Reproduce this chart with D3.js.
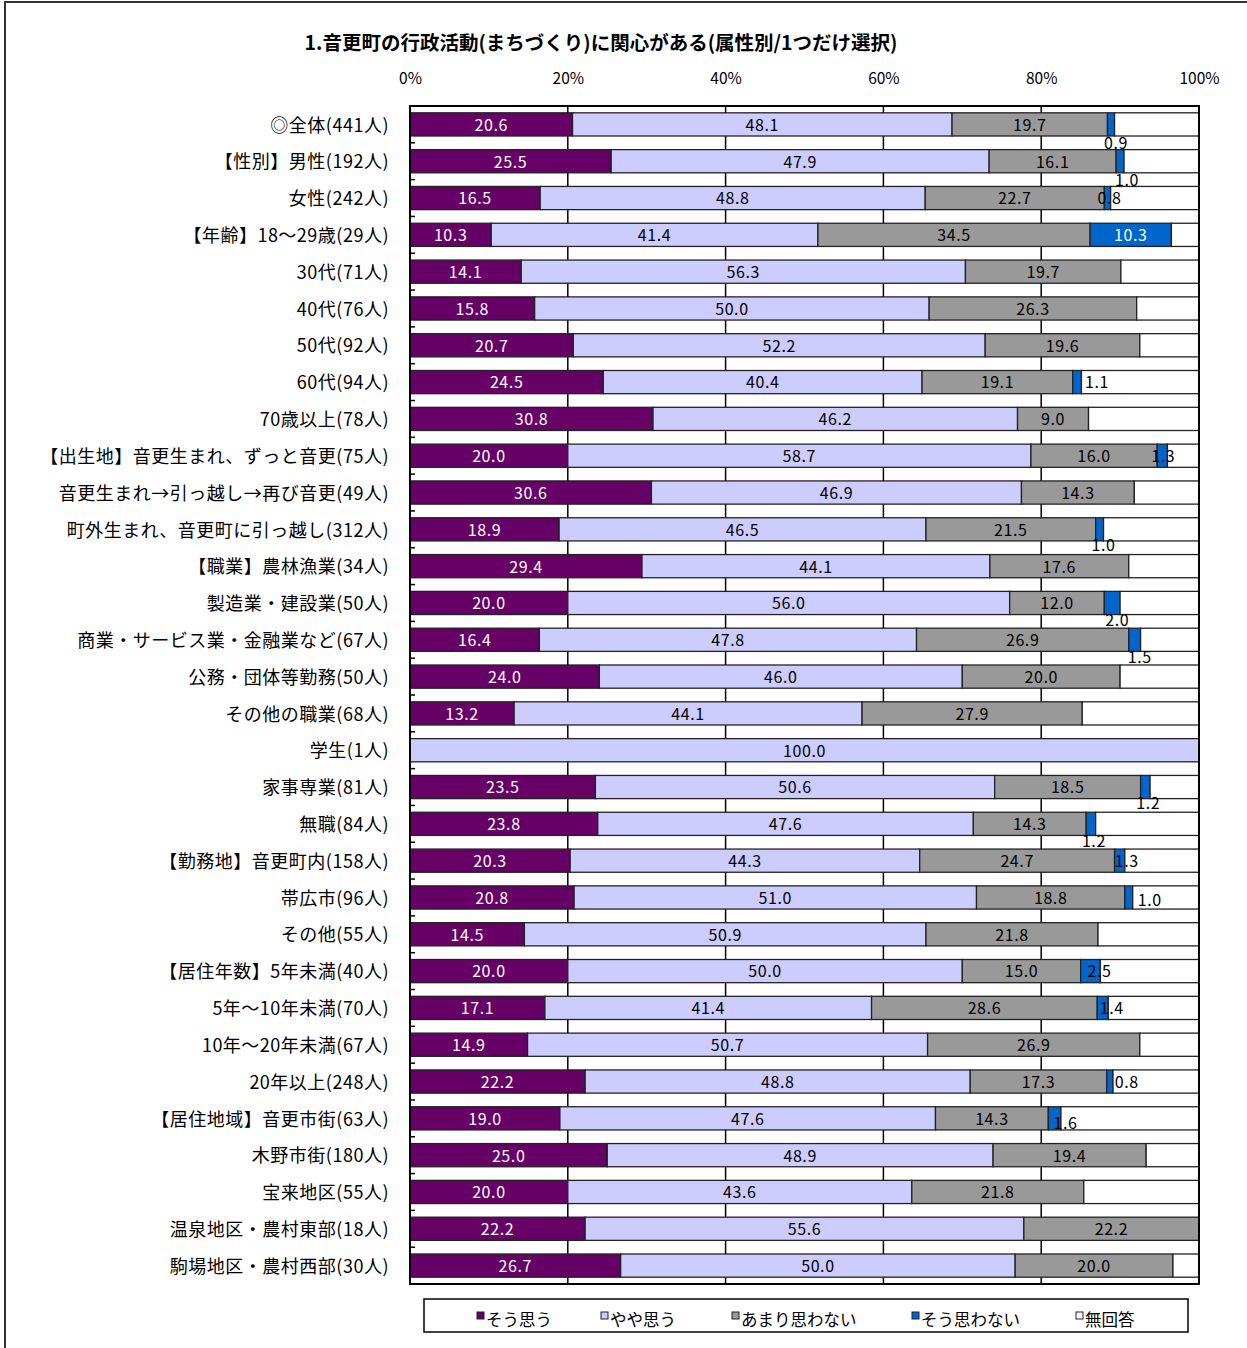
<!DOCTYPE html>
<html lang="ja">
<head>
<meta charset="utf-8">
<script src="https://cdn.jsdelivr.net/npm/d3@7/dist/d3.min.js"></script>
<style>
  html, body { margin: 0; padding: 0; background: #fff; }
  svg { display: block; }
  text { font-family: "Noto Sans CJK JP", "Noto Sans", sans-serif; }
</style>
</head>
<body>
<svg id="chart" width="1247" height="1348"></svg>
<script>
// 属性別の回答割合（%）
const categories = [
  "◎全体(441人)",
  "【性別】男性(192人)",
  "女性(242人)",
  "【年齢】18～29歳(29人)",
  "30代(71人)",
  "40代(76人)",
  "50代(92人)",
  "60代(94人)",
  "70歳以上(78人)",
  "【出生地】音更生まれ、ずっと音更(75人)",
  "音更生まれ→引っ越し→再び音更(49人)",
  "町外生まれ、音更町に引っ越し(312人)",
  "【職業】農林漁業(34人)",
  "製造業・建設業(50人)",
  "商業・サービス業・金融業など(67人)",
  "公務・団体等勤務(50人)",
  "その他の職業(68人)",
  "学生(1人)",
  "家事専業(81人)",
  "無職(84人)",
  "【勤務地】音更町内(158人)",
  "帯広市(96人)",
  "その他(55人)",
  "【居住年数】5年未満(40人)",
  "5年～10年未満(70人)",
  "10年～20年未満(67人)",
  "20年以上(248人)",
  "【居住地域】音更市街(63人)",
  "木野市街(180人)",
  "宝来地区(55人)",
  "温泉地区・農村東部(18人)",
  "駒場地区・農村西部(30人)"
];

const seriesNames = ["そう思う", "やや思う", "あまり思わない", "そう思わない", "無回答"];

const souOmou      = [20.6, 25.5, 16.5, 10.3, 14.1, 15.8, 20.7, 24.5, 30.8, 20.0, 30.6, 18.9, 29.4, 20.0, 16.4, 24.0, 13.2, 0, 23.5, 23.8, 20.3, 20.8, 14.5, 20.0, 17.1, 14.9, 22.2, 19.0, 25.0, 20.0, 22.2, 26.7];
const yayaOmou     = [48.1, 47.9, 48.8, 41.4, 56.3, 50.0, 52.2, 40.4, 46.2, 58.7, 46.9, 46.5, 44.1, 56.0, 47.8, 46.0, 44.1, 100.0, 50.6, 47.6, 44.3, 51.0, 50.9, 50.0, 41.4, 50.7, 48.8, 47.6, 48.9, 43.6, 55.6, 50.0];
const amariOmowanai= [19.7, 16.1, 22.7, 34.5, 19.7, 26.3, 19.6, 19.1, 9.0, 16.0, 14.3, 21.5, 17.6, 12.0, 26.9, 20.0, 27.9, 0, 18.5, 14.3, 24.7, 18.8, 21.8, 15.0, 28.6, 26.9, 17.3, 14.3, 19.4, 21.8, 22.2, 20.0];
const souOmowanai  = [0.9, 1.0, 0.8, 10.3, 0, 0, 0, 1.1, 0, 1.3, 0, 1.0, 0, 2.0, 1.5, 0, 0, 0, 1.2, 1.2, 1.3, 1.0, 0, 2.5, 1.4, 0, 0.8, 1.6, 0, 0, 0, 0];
const mukaitou     = [10.7, 9.5, 11.2, 3.5, 9.9, 7.9, 7.5, 14.9, 14.0, 4.0, 8.2, 12.1, 8.9, 10.0, 7.4, 10.0, 14.8, 0, 6.2, 13.1, 9.4, 8.4, 12.8, 12.5, 11.5, 7.5, 10.9, 17.5, 6.7, 14.6, 0, 3.3];

const tickValues = [0, 20, 40, 60, 80, 100];
const tickLabels = ["0%", "20%", "40%", "60%", "80%", "100%"];

const seriesValues = [souOmou, yayaOmou, amariOmowanai, souOmowanai, mukaitou];
const colors = ["#660066", "#CCCCFF", "#999999", "#0066CC", "#FFFFFF"];
const labelColors = ["#ffffff", "#000000", "#000000", "#ffffff", "#000000"];

// 小さい「そう思わない」値のラベル位置調整（セグメント中心からのずれ, px）
const smallLabelNudge = {
  0: [5, 18], 1: [7, 18], 2: [2, 0], 7: [20, 0], 9: [1, 0], 11: [4, 15],
  13: [5, 17], 14: [5, 17], 18: [3, 16], 19: [3, 17], 20: [7, 0], 21: [21, 2],
  23: [9, 0], 24: [9, 0], 26: [17, 0], 27: [11, 4]
};

const svg = d3.select("#chart");

// 外枠
svg.append("rect")
  .attr("x", 5).attr("y", 2).attr("width", 1300).attr("height", 1400)
  .attr("fill", "none").attr("stroke", "#333").attr("stroke-width", 2);

const plot = { left: 410, right: 1199, top: 106, bottom: 1284 };

const x = d3.scaleLinear().domain([0, 100]).range([plot.left, plot.right]);
const y = d3.scaleBand().domain(categories).range([plot.top, plot.bottom])
  .paddingInner(0.37).paddingOuter(0.185);

// タイトル
svg.append("text")
  .attr("x", 601).attr("y", 50)
  .attr("text-anchor", "middle")
  .attr("font-size", 19.5).attr("font-weight", "bold")
  .text("1.音更町の行政活動(まちづくり)に関心がある(属性別/1つだけ選択)");

// 上部の目盛りラベル
const topAxis = d3.axisTop(x).tickValues(tickValues)
  .tickFormat((d, i) => tickLabels[i]).tickSize(0).tickPadding(0);
const axG = svg.append("g").attr("transform", "translate(0,84)").call(topAxis);
axG.select(".domain").remove();
axG.selectAll("text").attr("font-size", 15.5).attr("fill", "#000")
  .attr("font-family", "'Noto Sans CJK JP', sans-serif");

// 縦のグリッド線
svg.append("g").selectAll("line")
  .data(tickValues.slice(1, -1))
  .join("line")
  .attr("x1", d => x(d)).attr("x2", d => x(d))
  .attr("y1", plot.top).attr("y2", plot.bottom)
  .attr("stroke", "#000").attr("stroke-width", 1.5);

// 積み上げ
const rows = categories.map((c, i) => {
  let acc = 0;
  return seriesValues.map((s, k) => {
    const v = s[i];
    const seg = { cat: c, idx: i, k, v, x0: acc, x1: acc + v };
    acc += v;
    return seg;
  });
});
const segs = rows.flat().filter(d => d.v > 0);

svg.append("g").selectAll("rect")
  .data(segs)
  .join("rect")
  .attr("x", d => x(d.x0))
  .attr("y", d => y(d.cat))
  .attr("width", d => Math.min(x(d.x1), plot.right) - x(d.x0))
  .attr("height", y.bandwidth())
  .attr("fill", d => colors[d.k])
  .attr("stroke", "#222").attr("stroke-width", 1.3);

// 枠
svg.append("rect")
  .attr("x", plot.left).attr("y", plot.top)
  .attr("width", plot.right - plot.left).attr("height", plot.bottom - plot.top)
  .attr("fill", "none").attr("stroke", "#000").attr("stroke-width", 2);

// 左軸の内向き目盛り
const boundaries = categories.slice(0, -1).map(c => y(c) + y.bandwidth() + y.step() * y.paddingInner() / 2);
svg.append("g").selectAll("line")
  .data(boundaries)
  .join("line")
  .attr("x1", plot.left).attr("x2", plot.left + 5)
  .attr("y1", d => d).attr("y2", d => d)
  .attr("stroke", "#000").attr("stroke-width", 1.5);

// 項目ラベル
svg.append("g").selectAll("text")
  .data(categories)
  .join("text")
  .attr("x", 389)
  .attr("y", d => y(d) + y.bandwidth() / 2)
  .attr("dy", "0.4em")
  .attr("text-anchor", "end")
  .attr("font-size", 18)
  .attr("letter-spacing", 0.5)
  .attr("fill", "#000")
  .text(d => d);

// 値ラベル
const labelSegs = segs.filter(d => d.k < 4);
svg.append("g").selectAll("text")
  .data(labelSegs)
  .join("text")
  .attr("x", d => {
    const cx = (x(d.x0) + x(d.x1)) / 2;
    const n = d.k === 3 ? smallLabelNudge[d.idx] : null;
    return cx + (n ? n[0] : 0);
  })
  .attr("y", d => {
    const cy = y(d.cat) + y.bandwidth() / 2;
    const n = d.k === 3 ? smallLabelNudge[d.idx] : null;
    return cy + (n ? n[1] : 0);
  })
  .attr("dy", "0.4em")
  .attr("text-anchor", "middle")
  .attr("font-size", 16)
  .attr("letter-spacing", 0.6)
  .attr("fill", d => (d.k === 3 && smallLabelNudge[d.idx]) ? "#000" : labelColors[d.k])
  .text(d => d.v.toFixed(1));

// 凡例
const legend = svg.append("g");
legend.append("rect")
  .attr("x", 424).attr("y", 1299).attr("width", 764).attr("height", 33)
  .attr("fill", "#fff").attr("stroke", "#000").attr("stroke-width", 1.5);
const legendX = [477, 601, 732, 912, 1076];
const lg = legend.selectAll("g.item")
  .data(seriesNames)
  .join("g").attr("class", "item")
  .attr("transform", (d, i) => `translate(${legendX[i]},1320)`);
lg.append("rect")
  .attr("x", 0).attr("y", -8).attr("width", 7).attr("height", 7)
  .attr("fill", (d, i) => colors[i]).attr("stroke", "#222").attr("stroke-width", 1);
lg.append("text")
  .attr("x", 9).attr("y", 0).attr("dy", "0.36em")
  .attr("font-size", 16.5)
  .text(d => d);
</script>
</body>
</html>
